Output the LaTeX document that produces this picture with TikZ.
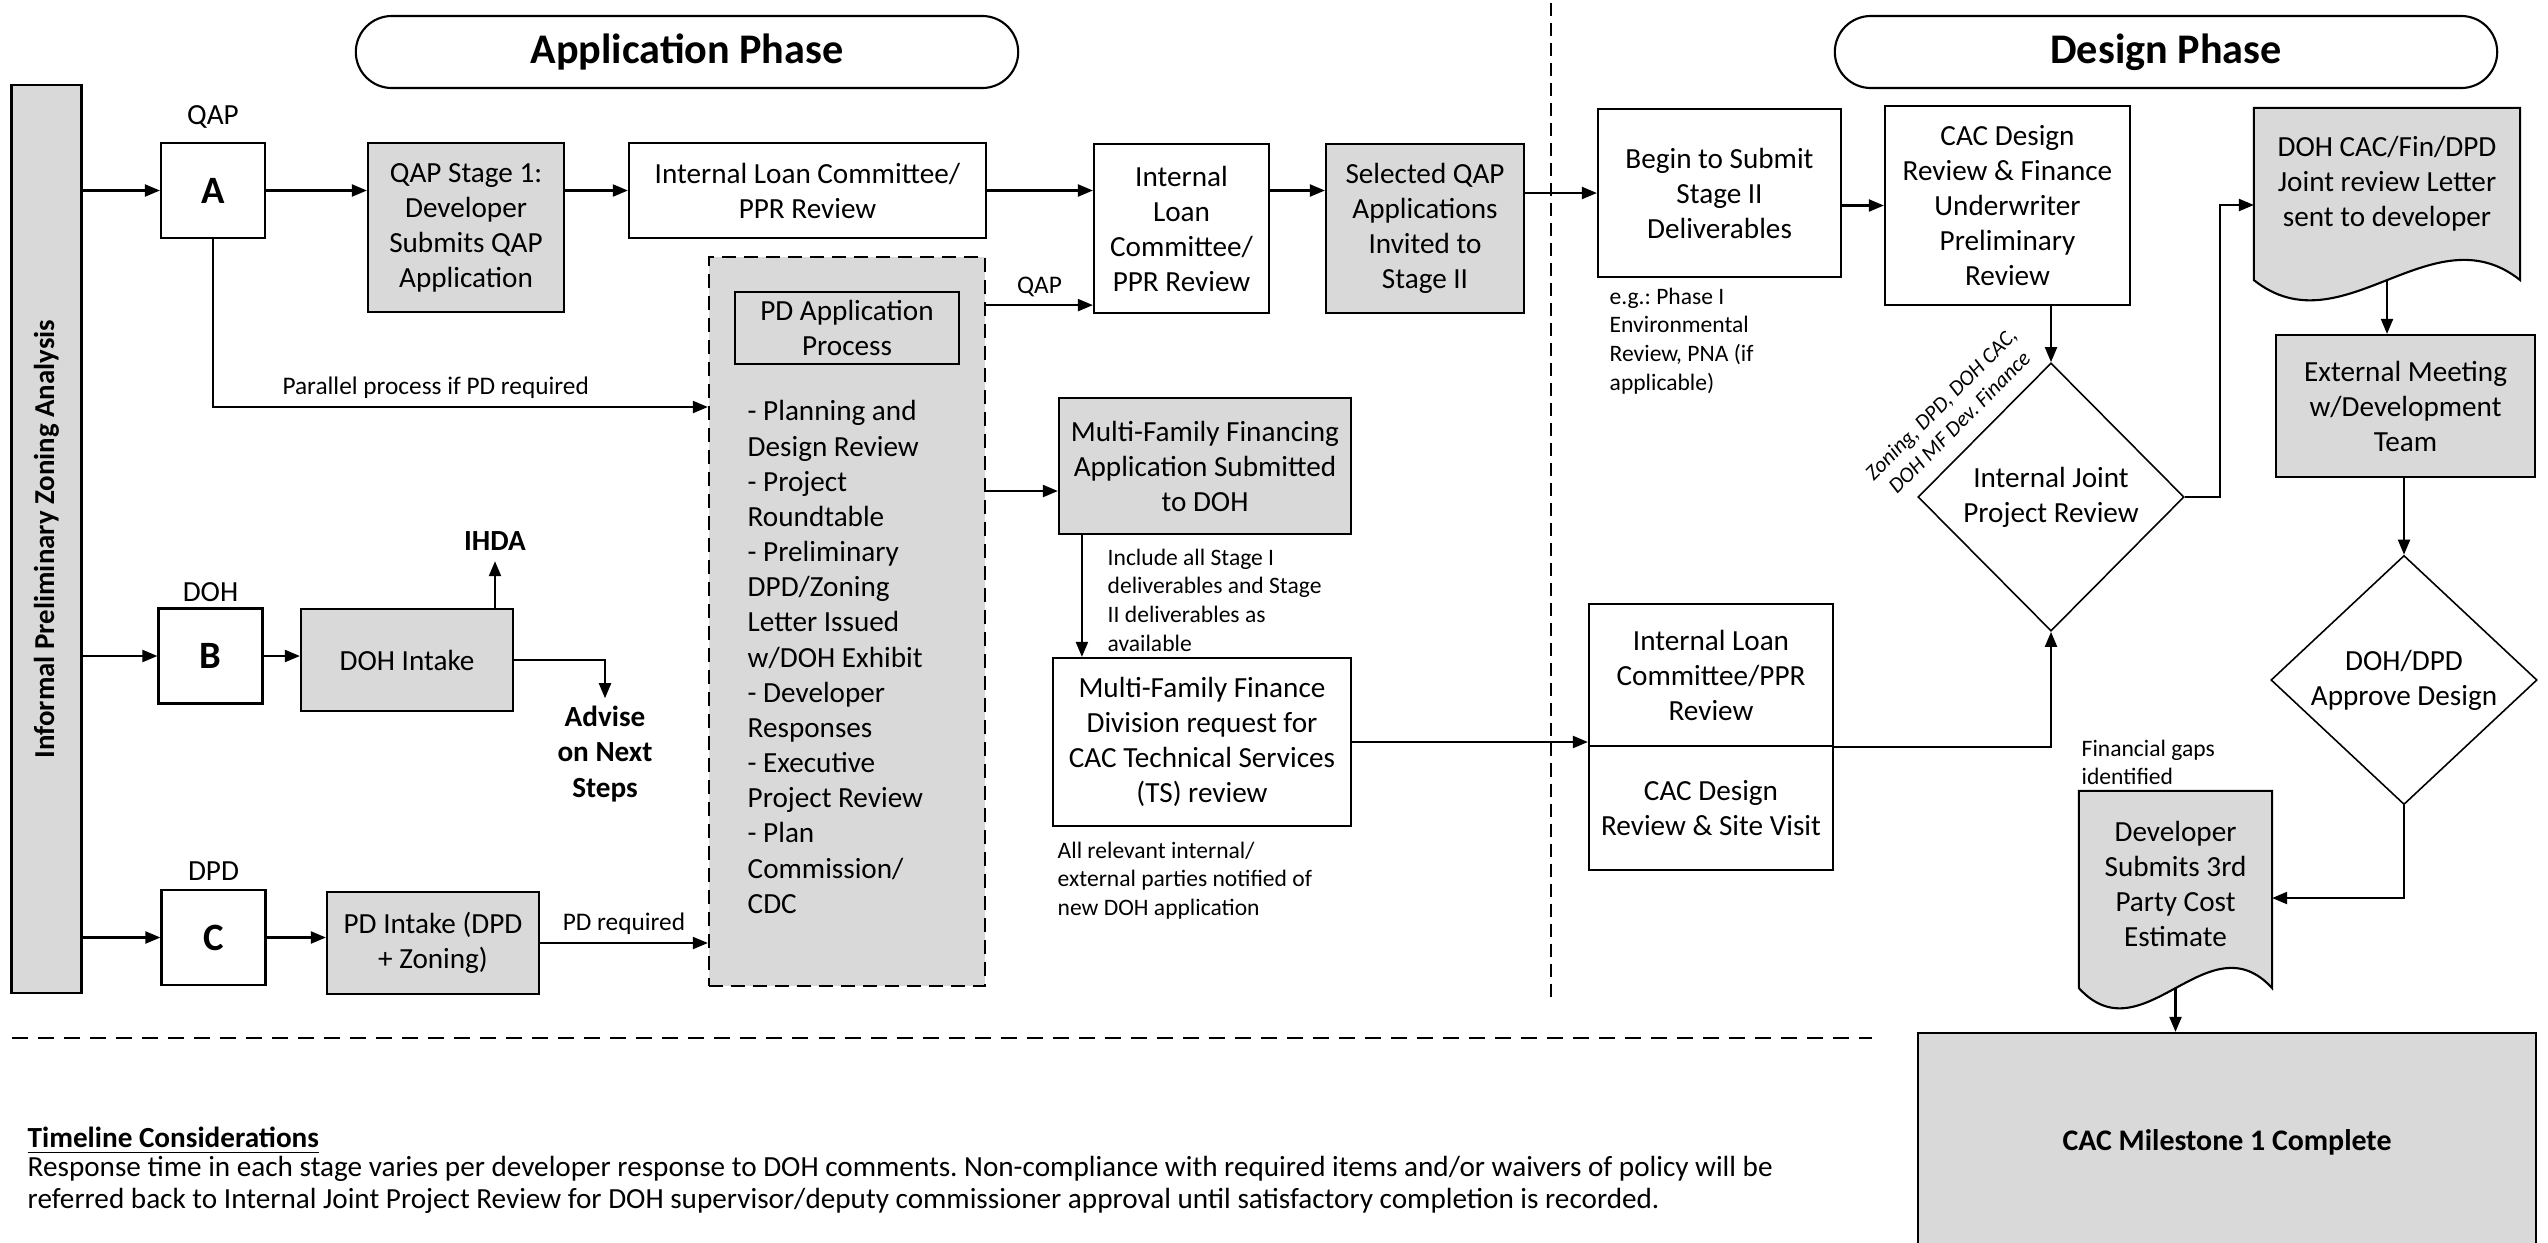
\documentclass[tikz,border=0pt]{standalone}
\usepackage{fontspec}
\setmainfont{Carlito}
\setsansfont{Carlito}
\frenchspacing
\definecolor{boxgray}{RGB}{217,217,217}
\tikzset{every picture/.style={/utils/exec={\sffamily}}}
\usetikzlibrary{calc}
\usetikzlibrary{positioning}
\usetikzlibrary{shapes.geometric}
\usetikzlibrary{arrows.meta,backgrounds}

\tikzset{
  box/.style={draw, line width=0.6pt, inner sep=0pt, align=center,
    font=\fontsize{8.3}{9.96}\selectfont},
  graybox/.style={box, fill=boxgray},
  decision/.style={box, diamond, line width=0.45pt, aspect=1},
  phase/.style={draw, line width=0.6pt, rounded corners=0.36cm, minimum width=6.62cm,
    minimum height=0.72cm, font=\fontsize{12}{14}\selectfont\bfseries},
  letter/.style={draw, line width=0.6pt, minimum width=1.04cm, minimum height=0.95cm,
    inner sep=0pt, font=\fontsize{11}{13}\selectfont\bfseries},
  tag/.style={font=\fontsize{8.3}{9.96}\selectfont, inner sep=0pt},
  note/.style={font=\fontsize{6.7}{8.2}\selectfont, align=left, inner sep=0pt, anchor=north west},
  lbl/.style={font=\fontsize{7.2}{8.6}\selectfont, inner sep=2pt},
  flow/.style={line width=0.6pt, -{Triangle[length=0.15cm,width=0.12cm]}},
  divider/.style={line width=0.6pt, dash pattern=on 0.13cm off 0.07cm},
}

\begin{document}
\begin{tikzpicture}[x=0.01cm, y=-0.01cm]
  \useasboundingbox (0,0) rectangle (2548,1242);

  % phase headers and dividers
  \node [phase] (appphase) at (687, 52) {Application Phase};
  \node [phase] (desphase) at (2166, 52) {Design Phase};
  \draw [divider] (1551, 3) -- (1551, 1000);
  \draw [divider, dash pattern=on 0.16cm off 0.1cm] (12, 1038) -- (1872, 1038);

  % informal analysis bar
  \node [graybox, minimum width=0.70cm, minimum height=9.08cm] (zoning) at (46.5, 539) {};
  \node [rotate=90, font=\fontsize{8.2}{9}\selectfont\bfseries] (zoningtext) at (zoning.center) {Informal Preliminary Zoning Analysis};

  % track A: QAP
  \node [letter] (A) at (213, 190.5) {A};
  \node [tag, above=0.13cm of A] (qaptag) {QAP};
  \node [graybox, minimum width=1.96cm, minimum height=1.69cm] (qapstage) at (466, 227.5) {QAP Stage 1:\\Developer\\Submits QAP\\Application};
  \node [box, minimum width=3.57cm, minimum height=0.95cm] (ilc1) at (807.5, 190.5) {Internal Loan Committee/\\PPR Review};
  \node [box, minimum width=1.75cm, minimum height=1.69cm] (ilc2) at (1181.5, 228.5) {Internal\\Loan\\Committee/\\PPR Review};
  \node [graybox, minimum width=1.98cm, minimum height=1.69cm] (selqap) at (1425, 228.5) {Selected QAP\\Applications\\Invited to\\Stage II};

  % PD application process
  \node [graybox, dash pattern=on 0.14cm off 0.08cm, minimum width=2.76cm, minimum height=7.29cm] (pdbox) at (847, 621.5) {};
  \node [box, minimum width=2.24cm, minimum height=0.72cm] (pdtitle) at (847, 328) {PD Application\\Process};
  \node [tag, anchor=north west, align=left, font=\fontsize{8.3}{10}\selectfont] (pdsteps) at (747, 400) {- Planning and\\Design Review\\- Project\\Roundtable\\- Preliminary\\DPD/Zoning\\Letter Issued\\w/DOH Exhibit\\- Developer\\Responses\\- Executive\\Project Review\\- Plan\\Commission/\\CDC};

  % track B: DOH
  \node [letter] (B) at (210.5, 656) {B};
  \node [tag, above=0.05cm of B] (dohtag) {DOH};
  \node [graybox, minimum width=2.12cm, minimum height=1.02cm] (dohintake) at (407, 660) {DOH Intake};
  \node [tag, inner sep=0.1cm, font=\fontsize{8.3}{9.96}\selectfont\bfseries] (ihda) at (495, 541) {IHDA};
  \node [tag, inner sep=0.07cm, align=center, font=\fontsize{8.3}{10.1}\selectfont\bfseries] (advise) at (605, 754) {Advise\\on Next\\Steps};

  % track C: DPD
  \node [letter] (C) at (213.5, 937.5) {C};
  \node [tag, above=0.08cm of C] (dpdtag) {DPD};
  \node [graybox, minimum width=2.12cm, minimum height=1.02cm] (pdintake) at (433, 943) {PD Intake (DPD\\+ Zoning)};

  % multi-family financing
  \node [graybox, minimum width=2.92cm, minimum height=1.36cm] (mffin) at (1205, 466) {Multi-Family Financing\\Application Submitted\\to DOH};
  \node [box, minimum width=2.98cm, minimum height=1.68cm] (mfdiv) at (1202, 742) {Multi-Family Finance\\Division request for\\CAC Technical Services\\(TS) review};
  \node [note] (stagenote) at (1107, 548) {Include all Stage I\\deliverables and Stage\\II deliverables as\\available};
  \node [note] (partynote) at (1057, 841) {All relevant internal/\\external parties notified of\\new DOH application};

  % design phase
  \node [box, minimum width=2.43cm, minimum height=1.68cm] (begin) at (1719.5, 193) {Begin to Submit\\Stage II\\Deliverables};
  \node [note] (egnote) at (1609, 287) {e.g.: Phase I\\Environmental\\Review, PNA (if\\applicable)};
  \node [box, minimum width=2.45cm, minimum height=1.99cm] (cacdes) at (2007.5, 205.5) {CAC Design\\Review \& Finance\\Underwriter\\Preliminary\\Review};
  \node [decision, minimum width=2.66cm, minimum height=2.68cm] (ijpr) at (2051, 497) {Internal Joint\\Project Review};
  \node [rotate=45, inner sep=0pt, align=center, font=\fontsize{6.2}{7.4}\selectfont\itshape] (ijprnote) at (1950, 413) {Zoning, DPD, DOH CAC,\\DOH MF Dev. Finance};
  \node [box, draw=none, minimum width=2.64cm, minimum height=1.50cm] (dohletter) at (2387, 184) {DOH CAC/Fin/DPD\\Joint review Letter\\sent to developer};
  \node [graybox, minimum width=2.59cm, minimum height=1.42cm] (extmeet) at (2405.5, 406) {External Meeting\\w/Development\\Team};
  \node [decision, aspect=1.07, minimum width=2.66cm, minimum height=2.49cm] (dohdpd) at (2404, 680) {DOH/DPD\\Approve Design};
  \node [box, minimum width=2.44cm, minimum height=1.42cm] (ilctop) at (1711, 675) {Internal Loan\\Committee/PPR\\Review};
  \node [box, minimum width=2.44cm, minimum height=1.24cm] (cacsite) at (1711, 808) {CAC Design\\Review \& Site Visit};
  \node [box, draw=none, minimum width=1.91cm, minimum height=1.84cm] (devsub) at (2175.5, 884) {Developer\\Submits 3rd\\Party Cost\\Estimate};
  \node [note] (gapnote) at (2081, 739) {Financial gaps\\identified};
  \node [graybox, minimum width=6.18cm, minimum height=2.18cm, font=\fontsize{8.5}{10}\selectfont\bfseries] (milestone) at (2227, 1142) {CAC Milestone 1 Complete};

  % document shapes
  \begin{scope}[on background layer]
    \draw [line width=0.6pt, fill=boxgray] (dohletter.north west) -- (dohletter.north east)
      -- ([yshift=-0.2cm]dohletter.south east)
      .. controls ([xshift=-0.88cm, yshift=0.5cm]dohletter.south east) and ([xshift=0.88cm, yshift=-0.9cm]dohletter.south west)
      .. ([yshift=-0.2cm]dohletter.south west) -- cycle;
    \draw [line width=0.6pt, fill=boxgray] (devsub.north west) -- (devsub.north east)
      -- ([yshift=-0.11cm]devsub.south east)
      .. controls ([xshift=-0.64cm, yshift=0.59cm]devsub.south east) and ([xshift=0.64cm, yshift=-0.81cm]devsub.south west)
      .. ([yshift=-0.11cm]devsub.south west) -- cycle;
  \end{scope}

  % connectors, track A
  \draw [flow] (A.west -| zoning.east) -- (A.west);
  \draw [flow] (A.east) -- (A.east -| qapstage.west);
  \draw [flow] (qapstage.east |- ilc1.west) -- (ilc1.west);
  \draw [flow] (ilc1.east) -- (ilc1.east -| ilc2.west);
  \draw [flow] (ilc2.east |- ilc1.east) -- (selqap.west |- ilc1.east);
  \draw [flow] (selqap.east |- begin.west) -- (begin.west);
  \coordinate (parin) at (pdbox.west |- 0,407);
  \draw [flow] (A.south) |- node [lbl, above, pos=0.725] {Parallel process if PD required} (parin);

  % connectors, PD and financing
  \coordinate (qapin) at ([yshift=0.09cm]ilc2.south west);
  \draw [flow] (qapin -| pdbox.east) -- node [lbl, above] {QAP} (qapin);
  \coordinate (mfin) at ([yshift=-0.25cm]mffin.west);
  \draw [flow] (mfin -| pdbox.east) -- (mfin);
  \coordinate (mfout) at ([xshift=-1.23cm]mffin.south);
  \draw [flow] (mfout) -- (mfout |- mfdiv.north);
  \draw [flow] (mfdiv.east) -- (mfdiv.east -| ilctop.west);

  % connectors, tracks B and C
  \draw [flow] (B.west -| zoning.east) -- (B.west);
  \draw [flow] (B.east) -- (B.east -| dohintake.west);
  \draw [flow] (ihda.south |- dohintake.north) -- (ihda.south);
  \draw [flow] (dohintake.east) -| (advise.north);
  \draw [flow] (C.west -| zoning.east) -- (C.west);
  \draw [flow] (C.east) -- (C.east -| pdintake.west);
  \draw [flow] (pdintake.east) -- node [lbl, above] {PD required} (pdintake.east -| pdbox.west);

  % connectors, design phase
  \draw [flow] (begin.east |- cacdes.west) -- (cacdes.west);
  \draw [flow] (cacdes.south -| ijpr.north) -- (ijpr.north);
  \draw [flow] (ilctop.south east) -| (ijpr.south);
  \coordinate (jturn) at (2220, 205);
  \draw [flow] (ijpr.east) -| (jturn) -- (jturn -| dohletter.west);
  \draw [flow] ([yshift=-0.2cm]dohletter.south) -- (extmeet.north -| dohletter.south);
  \draw [flow] (extmeet.south -| dohdpd.north) -- (dohdpd.north);
  \draw [flow] (dohdpd.south) |- ([yshift=-0.14cm]devsub.east);
  \draw [flow] ([yshift=-0.11cm]devsub.south) -- (milestone.north -| devsub.south);

  % timeline considerations
  \node [anchor=north west, inner sep=0pt, font=\fontsize{8.3}{9.96}\selectfont\bfseries] (tlhead) at (27, 1126) {\underline{Timeline Considerations}};
  \node [anchor=north west, inner sep=0pt, align=left, font=\fontsize{8.3}{9.1}\selectfont] (tltext) at (27, 1156) {Response time in each stage varies per developer response to DOH comments. Non-compliance with required items and/or waivers of policy will be\\referred back to Internal Joint Project Review for DOH supervisor/deputy commissioner approval until satisfactory completion is recorded.};

\end{tikzpicture}
\end{document}
